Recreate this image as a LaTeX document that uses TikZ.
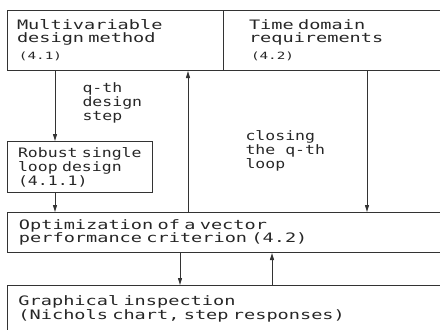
\documentclass[tikz,border=0pt]{standalone}
\usepackage{fontspec}
\usetikzlibrary{arrows.meta}
% wide plotter-like lettering
\newfontfamily\plotfont{DejaVu Sans Mono}[FakeStretch=1.43]
\newfontfamily\plotfontn{DejaVu Sans Mono}[FakeStretch=1.27]

\begin{document}
\begin{tikzpicture}[x=1pt, y=-1pt,
		box/.style={draw=black!80, line width=1pt, anchor=north west, align=left, inner ysep=0pt,
			text=black!85, font=\plotfont\fontsize{13}{13}\selectfont},
		lbl/.style={inner sep=0pt, align=left, text=black!85, font=\plotfontn\fontsize{13}{14}\selectfont},
		flow/.style={draw=black!80, line width=1pt, -{Triangle[length=7pt,width=4pt]}}]
	\useasboundingbox (0,0) rectangle (440,330);
	\clip (0,0) rectangle (440,330);

	\node (mvd) [box, inner xsep=9.5pt, text width=197pt, minimum height=60pt] at (7,10)
		{Multivariable\\design method\\[4pt]\hspace{2pt}{\fontsize{10}{11}\selectfont(4.1)}};
	\node (tdr) [box, inner xsep=25.5pt, text width=200pt, minimum height=60pt] at (223,10)
		{Time domain\\requirements\\[4pt]\hspace{2pt}{\fontsize{10}{11}\selectfont(4.2)}};
	\node (rsl) [box, inner xsep=10.5pt, text width=124pt, minimum height=51pt,
		font=\plotfontn\fontsize{13}{14}\selectfont] at (7,141)
		{Robust single\\loop design\\(4.1.1)};
	\node (opt) [box, inner xsep=11.5pt, text width=450pt, minimum height=40pt] at (7,212)
		{Optimization of a vector\\performance criterion (4.2)};
	\node (gin) [box, inner xsep=11pt, text width=450pt, minimum height=47pt,
		font=\plotfont\fontsize{13}{14.5}\selectfont] at (7,285)
		{Graphical inspection\\(Nichols chart, step responses)};

	% design step and loop closing
	\draw [flow] ([xshift=48pt]mvd.south west) -- ([xshift=48pt]rsl.north west)
		node (stp) [lbl, pos=0.46, anchor=west, xshift=27pt] {q-th\\design\\step};
	\draw [flow] ([xshift=48pt]rsl.south west) -- ([xshift=48pt]opt.north west);
	\draw [flow] ([xshift=181pt]opt.north west) -- ([xshift=181pt]mvd.south west)
		node (cls) [lbl, pos=0.43, anchor=west, xshift=57pt] {closing\\the q-th\\loop};
	\draw [flow] ([xshift=144pt]tdr.south west) -- ([xshift=144pt]tdr.south west |- opt.north);

	% optimization <-> inspection
	\draw [flow] ([xshift=173pt]opt.south west) -- ([xshift=173pt]gin.north west);
	\draw [flow] ([xshift=265pt]gin.north west) -- ([xshift=265pt]opt.south west);
\end{tikzpicture}
\end{document}
